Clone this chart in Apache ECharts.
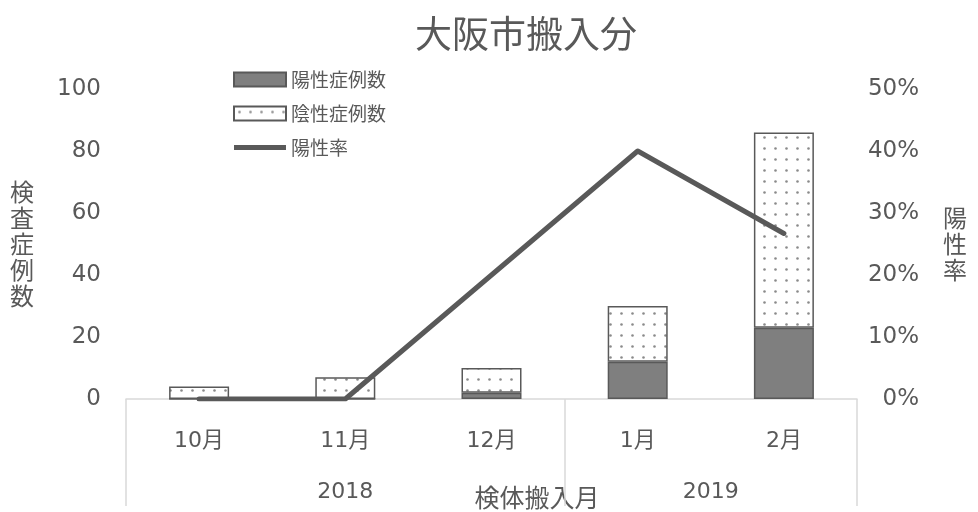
<!DOCTYPE html>
<html>
<head>
<meta charset="utf-8">
<script src="https://cdn.jsdelivr.net/npm/echarts@6/dist/echarts.min.js"></script>
<style>
  html, body { margin: 0; padding: 0; background: #fff; }
  #main { width: 978px; height: 512px; }
</style>
</head>
<body>
<div id="main"></div>
<script>
// ---- data ----
var months = ['10月', '11月', '12月', '1月', '2月'];
var years = ['2018', '2019'];
var positive = [0, 0, 2, 12, 23];     // 陽性症例数
var negative = [4, 7, 8, 18, 63];     // 陰性症例数
var rate = [0, 0, 20, 40, 26.7];      // 陽性率 (%)

var FONT = '"DejaVu Sans", "Noto Sans CJK JP", sans-serif';
var JP = '"Noto Sans CJK JP", sans-serif';
var TXT = '#595959';

// dotted fill like the excel pattern
function dotPattern() {
    var c = document.createElement('canvas');
    c.width = 11;
    c.height = 11;
    var ctx = c.getContext('2d');
    ctx.fillStyle = '#ffffff';
    ctx.fillRect(0, 0, 11, 11);
    ctx.fillStyle = '#8a8a8a';
    ctx.beginPath();
    ctx.arc(5.5, 5.5, 1.3, 0, Math.PI * 2);
    ctx.fill();
    return c;
}

var chart = echarts.init(document.getElementById('main'));

var option = {
    backgroundColor: '#ffffff',
    animation: false,
    title: {
        text: '大阪市搬入分',
        left: 410,
        top: 10,
        textStyle: { fontFamily: JP, fontSize: 37, fontWeight: 'normal', color: TXT }
    },
    legend: {
        orient: 'vertical',
        left: 228,
        top: 65,
        itemWidth: 52,
        itemHeight: 14,
        itemGap: 15,
        textStyle: { fontFamily: JP, fontSize: 19, color: TXT },
        data: [
            { name: '陽性症例数', icon: 'rect' },
            { name: '陰性症例数', icon: 'rect' },
            // thick bar in the middle, empty subpaths keep the 14px box
            { name: '陽性率', icon: 'path://M0,0L0,0.01M0,14L0,14.01M0,4.5L52,4.5L52,9.5L0,9.5Z',
              itemStyle: { color: '#595959', borderWidth: 0 } }
        ]
    },
    graphic: [{
        type: 'text',
        x: 537,
        y: 497,
        style: {
            text: '検体搬入月',
            align: 'center',
            verticalAlign: 'middle',
            fontFamily: JP,
            fontSize: 25,
            fill: TXT
        }
    }],
    grid: { left: 126, right: 121, top: 89, bottom: 113 },
    xAxis: [{
        type: 'category',
        data: months,
        axisLine: { lineStyle: { color: '#d9d9d9', width: 1.5 } },
        axisTick: { show: false },
        axisLabel: { margin: 31, fontFamily: FONT, fontSize: 22, color: TXT }
    }, {
        // year level of the multi-level category axis
        type: 'value',
        position: 'bottom',
        min: 0,
        max: months.length,
        axisLine: { show: false },
        splitLine: { show: false },
        axisTick: {
            show: true,
            customValues: [0, 3, 5],
            length: 107,
            lineStyle: { color: '#d9d9d9', width: 1.5 }
        },
        axisLabel: {
            customValues: [1.5, 4],
            margin: 82,
            fontFamily: FONT,
            fontSize: 22,
            color: TXT,
            formatter: function (v) { return v < 3 ? years[0] : years[1]; }
        }
    }],
    yAxis: [{
        type: 'value',
        min: 0,
        max: 100,
        interval: 20,
        splitLine: { show: false },
        axisLine: { show: false },
        axisTick: { show: false },
        axisLabel: { margin: 25, fontFamily: FONT, fontSize: 23, color: TXT },
        name: '検\n査\n症\n例\n数',
        nameLocation: 'middle',
        nameRotate: 0,
        nameGap: 92,
        nameTextStyle: { fontFamily: JP, fontSize: 24, lineHeight: 26, color: TXT }
    }, {
        type: 'value',
        min: 0,
        max: 50,
        interval: 10,
        splitLine: { show: false },
        axisLine: { show: false },
        axisTick: { show: false },
        axisLabel: {
            margin: 62, align: 'right', formatter: '{value}%',
            fontFamily: FONT, fontSize: 23, color: TXT
        },
        name: '陽\n性\n率',
        nameLocation: 'middle',
        nameRotate: 0,
        nameGap: 86,
        nameTextStyle: { fontFamily: JP, fontSize: 24, lineHeight: 26, color: TXT }
    }],
    series: [{
        name: '陽性症例数',
        type: 'bar',
        stack: 'cases',
        barWidth: 60,
        data: positive,
        itemStyle: { color: '#7f7f7f', borderColor: '#595959', borderWidth: 1.5 }
    }, {
        name: '陰性症例数',
        type: 'bar',
        stack: 'cases',
        barWidth: 60,
        data: negative,
        itemStyle: {
            color: { image: dotPattern(), repeat: 'repeat' },
            borderColor: '#595959',
            borderWidth: 1.5
        }
    }, {
        name: '陽性率',
        type: 'line',
        yAxisIndex: 1,
        data: rate,
        symbol: 'none',
        lineStyle: { color: '#595959', width: 5, cap: 'round', join: 'round' },
        itemStyle: { color: '#595959' }
    }]
};

chart.setOption(option);
</script>
</body>
</html>
